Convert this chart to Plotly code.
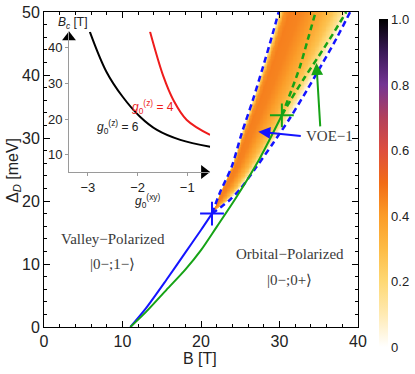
import numpy as np
import plotly.graph_objects as go

# --- main panel: phase boundaries (B [T], Delta_D [meV]) ---
blue_B = [11.0, 13.0, 15.6, 18.0, 20.0, 21.4]
blue_D = [0.0, 3.0, 7.5, 11.8, 15.4, 18.0]

green_B = [11.0, 13.0, 15.6, 18.0, 20.0, 22.0, 24.5, 27.5, 30.3]
green_D = [0.0, 2.4, 5.9, 9.1, 12.2, 15.9, 20.6, 26.8, 33.6]

voe_left_B = [21.4, 22.4, 23.9, 25.2, 26.6, 27.9, 28.8, 29.9]
voe_left_D = [18.0, 21.3, 25.4, 30.8, 36.0, 41.3, 45.1, 50.0]

voe_right_B = [21.4, 22.5, 23.7, 25.0, 27.0, 29.2, 31.3, 33.5, 35.5, 37.3, 39.0]
voe_right_D = [18.0, 19.0, 20.2, 21.9, 25.3, 29.2, 33.1, 37.6, 41.9, 45.9, 50.0]

green_mid_B = [30.3, 31.5, 32.6, 33.6, 34.6]
green_mid_D = [33.6, 37.5, 41.3, 45.6, 50.0]

green_right_B = [30.3, 31.5, 33.2, 35.0, 36.8, 38.5]
green_right_D = [33.6, 36.2, 39.6, 43.0, 46.5, 50.0]

cross_blue = (21.4, 18.0)
cross_green = (30.3, 33.6)

# intensity across the VOE band (0 = left dashed edge, 1 = right dashed edge)
profile_frac = [0.0, 0.03, 0.08, 0.15, 0.30, 0.45, 0.60, 0.75, 0.88, 0.96, 1.0]
profile_val = [0.0, 0.22, 0.42, 0.46, 0.45, 0.41, 0.35, 0.27, 0.15, 0.04, 0.0]

# --- inset: critical field vs g0^(xy) ---
g6_x = [-2.96, -2.63, -2.30, -1.95, -1.61, -1.14, -0.54]
g6_y = [44.5, 33.4, 26.3, 20.7, 17.0, 14.2, 12.3]
g4_x = [-1.75, -1.48, -1.28, -1.01, -0.54]
g4_y = [44.6, 32.0, 25.4, 19.8, 15.6]

cb_vals = [0, 0.2, 0.4, 0.6, 0.8, 1.0]
cb_text = ["0", "0.2", "0.4", "0.6", "0.8", "1.0"]

BLUE = "#1414ff"
GREEN = "#16a316"
RED = "#ee1c1c"

colorscale = [
    [0.0, "#ffffff"], [0.1, "#ffeab2"], [0.2, "#fed874"], [0.3, "#fdbb45"],
    [0.4, "#fb9c28"], [0.5, "#f26c16"], [0.6, "#de4e3e"], [0.7, "#b2405c"],
    [0.8, "#743494"], [0.9, "#3a1a58"], [1.0, "#000000"],
]

# heatmap table built from the band edges and the cross profile
Bg = np.arange(20.0, 40.01, 0.1)
Dg = np.arange(18.3, 50.01, 0.2)
L = np.interp(Dg, voe_left_D, voe_left_B)
R = np.interp(Dg, voe_right_D, voe_right_B)
frac = (Bg[None, :] - L[:, None]) / (R - L)[:, None]
z = np.interp(frac, profile_frac, profile_val)
z[(frac < 0) | (frac > 1)] = np.nan

fig = go.Figure()

fig.add_trace(go.Heatmap(
    x=Bg, y=Dg, z=z, zmin=0, zmax=1, colorscale=colorscale, hoverinfo="skip",
    colorbar=dict(x=1.067, xanchor="left", y=0.456, yanchor="middle",
                  len=1.04, thickness=9, outlinewidth=0, ticks="",
                  tickvals=cb_vals, ticktext=cb_text, ypad=0, xpad=0,
                  tickfont=dict(size=13, color="#222", family="Liberation Sans")),
))


def line(x, y, color, dash="solid", width=2):
    fig.add_trace(go.Scatter(x=x, y=y, mode="lines", hoverinfo="skip",
                             line=dict(color=color, width=width, dash=dash,
                                       shape="spline", smoothing=0.8)))


line(voe_left_B, voe_left_D, BLUE, "6px,4px", 2.5)
line(voe_right_B, voe_right_D, BLUE, "6px,4px", 2.5)
line(green_mid_B, green_mid_D, GREEN, "6px,4px", 2.5)
line(green_right_B, green_right_D, GREEN, "6px,4px", 2.5)
line(blue_B, blue_D, BLUE)
line(green_B, green_D, GREEN)

for (cx, cy), col in [(cross_blue, BLUE), (cross_green, GREEN)]:
    fig.add_trace(go.Scatter(x=[cx], y=[cy], mode="markers", hoverinfo="skip",
                             marker=dict(symbol="cross-thin", size=17,
                                         line=dict(color=col, width=2))))

# inset
fig.add_trace(go.Scatter(x=g6_x, y=g6_y, mode="lines", xaxis="x2", yaxis="y2",
                         line=dict(color="black", width=2, shape="spline"),
                         hoverinfo="skip"))
fig.add_trace(go.Scatter(x=g4_x, y=g4_y, mode="lines", xaxis="x2", yaxis="y2",
                         line=dict(color=RED, width=2, shape="spline"),
                         hoverinfo="skip"))
fig.add_trace(go.Scatter(x=[-0.66], y=[5.2], mode="markers", xaxis="x2", yaxis="y2",
                         marker=dict(symbol="triangle-right", size=12, color="black"),
                         cliponaxis=False, hoverinfo="skip"))
fig.add_trace(go.Scatter(x=[-3.38], y=[43.0], mode="markers", xaxis="x2", yaxis="y2",
                         marker=dict(symbol="triangle-up", size=12, color="black"),
                         cliponaxis=False, hoverinfo="skip"))

# arrows to VOE-1
fig.add_annotation(x=27.3, y=31.0, ax=32.9, ay=30.3, axref="x", ayref="y",
                   text="", showarrow=True, arrowhead=2, arrowsize=1.2,
                   arrowwidth=2, arrowcolor=BLUE)
fig.add_annotation(x=34.7, y=41.9, ax=35.2, ay=31.6, axref="x", ayref="y",
                   text="", showarrow=True, arrowhead=2, arrowsize=1.2,
                   arrowwidth=2, arrowcolor=GREEN)

SERIF = dict(family="Liberation Serif", size=15, color="#3a3a3a")
SANS = "Liberation Sans"


def px(x, y):
    return (x - 44) / 314, (327 - y) / 315


def note(text, xp, yp, font, xanchor="center", angle=0):
    ax_, ay_ = px(xp, yp)
    fig.add_annotation(x=ax_, y=ay_, xref="paper", yref="paper", text=text,
                       showarrow=False, font=font, xanchor=xanchor,
                       yanchor="middle", textangle=angle)


note("VOE−1", 304, 136, SERIF, xanchor="left")
note("Valley−Polarized", 113, 239, SERIF)
note("|0−;1−⟩", 112, 264, SERIF)
note("Orbital−Polarized", 290, 254, SERIF)
note("|0−;0+⟩", 289, 280, SERIF)

note("<i>g</i><sub>0</sub><sup>(z)</sup> = 4", 153, 107,
     dict(family=SANS, size=12, color=RED))
note("<i>g</i><sub>0</sub><sup>(z)</sup> = 6", 118, 127,
     dict(family=SANS, size=12, color="#222"))
note("<i>B<sub>c</sub></i> [T]", 56, 23, dict(family=SANS, size=12, color="#222"),
     xanchor="left")
note("<i>g</i><sub>0</sub><sup>(xy)</sup>", 148, 201,
     dict(family=SANS, size=12, color="#222"))

note("B [T]", 200, 358, dict(family=SANS, size=16, color="#222"))
note("Δ<sub><i>D</i></sub> [meV]", 13, 170, dict(family=SANS, size=16, color="#222"),
     angle=-90)

main_axis = dict(showline=True, linecolor="black", linewidth=1, mirror="ticks",
                 ticks="inside", ticklen=6, tickcolor="black", showgrid=False,
                 zeroline=False, automargin=False,
                 tickfont=dict(family=SANS, size=16, color="#222"),
                 minor=dict(ticks="inside", ticklen=3, dtick=2, tickcolor="black",
                            showgrid=False))
inset_axis = dict(showline=True, linecolor="#9a9a9a", linewidth=1, ticks="outside",
                  ticklen=3, tickcolor="#9a9a9a", showgrid=False, zeroline=False,
                  automargin=False,
                  tickfont=dict(family=SANS, size=13, color="#222"))

fig.update_layout(
    width=415, height=374,
    margin=dict(l=44, r=57, t=12, b=47, autoexpand=False),
    paper_bgcolor="white", plot_bgcolor="white",
    showlegend=False,
    xaxis=dict(main_axis, range=[0, 40], tickvals=[0, 10, 20, 30, 40]),
    yaxis=dict(main_axis, range=[0, 50], tickvals=[0, 10, 20, 30, 40, 50]),
    xaxis2=dict(inset_axis, domain=[0.0796, 0.529], range=[-3.38, -0.54],
                anchor="y2", tickvals=[-3, -2, -1]),
    yaxis2=dict(inset_axis, domain=[0.492, 0.937], range=[5.2, 44.5],
                anchor="x2", tickvals=[10, 20, 30, 40]),
)

# drop the default page margin so the figure sits at the window's corner
fig.write_html("out.html", config={"displayModeBar": False},
               post_script="document.body.style.margin='0';")
